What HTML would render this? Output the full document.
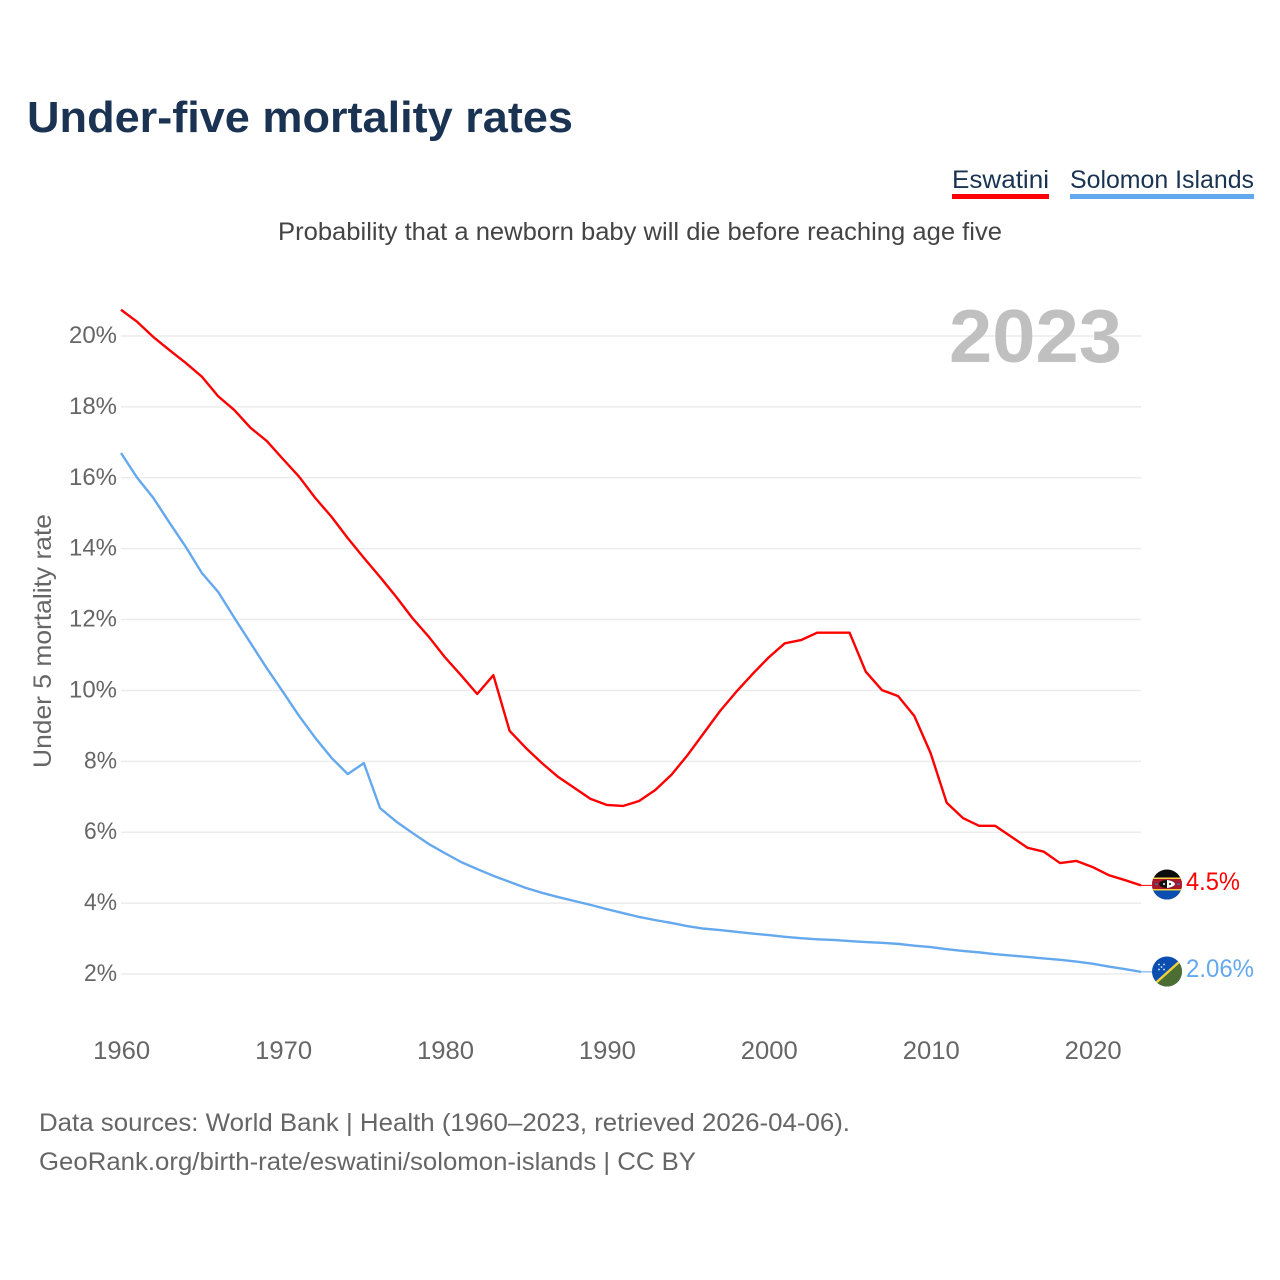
<!DOCTYPE html>
<html lang="en">
<head>
<meta charset="utf-8">
<title>Under-five mortality rates</title>
<style>
html,body{margin:0;padding:0;background:#fff}
svg{display:block}
text{font-family:"Liberation Sans",sans-serif}
</style>
</head>
<body>
<svg id="chart" xmlns="http://www.w3.org/2000/svg" width="1280" height="1280" viewBox="0 0 1280 1280">
  <rect width="1280" height="1280" fill="#fff"/>
  <text x="27" y="132" font-size="44" font-weight="700" fill="#1a3353" textLength="546" lengthAdjust="spacingAndGlyphs">Under-five mortality rates</text>

  <g>
    <text x="952" y="188" font-size="25" fill="#1a3353" textLength="97" lengthAdjust="spacingAndGlyphs">Eswatini</text>
    <rect x="952" y="194" width="97" height="5" fill="#ff0000"/>
  </g>
  <g>
    <text x="1070" y="188" font-size="25" fill="#1a3353" textLength="184" lengthAdjust="spacingAndGlyphs">Solomon Islands</text>
    <rect x="1070" y="194" width="184" height="5" fill="#64a8ee"/>
  </g>

  <text x="278" y="240" font-size="25" fill="#444" textLength="724" lengthAdjust="spacingAndGlyphs">Probability that a newborn baby will die before reaching age five</text>

  <g id="grid"></g>
  <text x="949" y="362" font-size="75" font-weight="700" fill="#c0c0c0" textLength="173" lengthAdjust="spacingAndGlyphs">2023</text>
  <g id="yticks"></g>
  <g id="xticks"></g>
  <text transform="translate(51,768) rotate(-90)" font-size="25" fill="#666" textLength="254" lengthAdjust="spacingAndGlyphs">Under 5 mortality rate</text>
  <g id="series"></g>

  <defs>
    <clipPath id="flag-clip"><circle cx="0" cy="0" r="15"/></clipPath>
  </defs>
  <g id="flag-eswatini" clip-path="url(#flag-clip)">
    <rect x="-15" y="-16" width="30" height="32" fill="#0c0c0c"/>
    <rect x="-15" y="4" width="30" height="12" fill="#0a4fb0"/>
    <rect x="-15" y="-7" width="30" height="13" fill="#f3d040"/>
    <rect x="-15" y="-5.5" width="30" height="10" fill="#a8172a"/>
    <ellipse cx="0" cy="-0.5" rx="8" ry="4" fill="#111"/>
    <path d="M0,-4.5 C5,-4 8,-2 8,-0.5 C8,1 5,3 0,3.5 Z" fill="#fff"/>
    <circle cx="-3" cy="-0.5" r="1" fill="#fff"/>
    <circle cx="3" cy="-0.5" r="1" fill="#111"/>
    <rect x="-12" y="-1" width="3" height="1.5" fill="#3a6fc0"/>
    <rect x="10" y="-1" width="3" height="1.5" fill="#3a6fc0"/>
  </g>
  <g id="flag-solomon" clip-path="url(#flag-clip)">
    <rect x="-15" y="-16" width="30" height="32" fill="#0a4fb0"/>
    <path d="M16,-12 L16,16 L-16,16 Z" fill="#4c6e32"/>
    <line x1="-13" y1="13" x2="16" y2="-13" stroke="#f3d040" stroke-width="2.4"/>
    <g fill="#e8eef8">
      <circle cx="-8" cy="-7" r="0.9"/><circle cx="-3" cy="-7" r="0.9"/><circle cx="-5.5" cy="-4.5" r="0.9"/>
      <circle cx="-8" cy="-2" r="0.9"/><circle cx="-3" cy="-2" r="0.9"/>
    </g>
  </g>
  <g id="endlabels"></g>

  <text x="39" y="1131" font-size="25" fill="#666" textLength="811" lengthAdjust="spacingAndGlyphs">Data sources: World Bank | Health (1960–2023, retrieved 2026-04-06).</text>
  <text x="39" y="1170" font-size="25" fill="#666" textLength="657" lengthAdjust="spacingAndGlyphs">GeoRank.org/birth-rate/eswatini/solomon-islands | CC BY</text>
</svg>

<script>
const startYear = 1960;
const eswatiniValues = [20.74,20.4,19.97,19.6,19.24,18.85,18.3,17.91,17.41,17.04,16.53,16.03,15.43,14.9,14.3,13.74,13.2,12.64,12.04,11.52,10.94,10.43,9.9,10.43,8.86,8.38,7.95,7.56,7.25,6.94,6.77,6.74,6.88,7.19,7.62,8.18,8.8,9.42,9.96,10.46,10.93,11.33,11.42,11.63,11.63,11.63,10.53,10.01,9.84,9.28,8.24,6.83,6.4,6.18,6.18,5.87,5.56,5.45,5.13,5.19,5.02,4.79,4.65,4.5];
const solomonValues = [16.7,16.0,15.43,14.73,14.05,13.31,12.78,12.05,11.34,10.63,9.96,9.28,8.66,8.1,7.64,7.95,6.68,6.3,5.98,5.67,5.41,5.16,4.96,4.77,4.6,4.43,4.29,4.17,4.06,3.95,3.83,3.72,3.61,3.52,3.44,3.35,3.28,3.24,3.19,3.14,3.1,3.05,3.01,2.98,2.96,2.93,2.9,2.88,2.85,2.8,2.76,2.7,2.65,2.61,2.56,2.52,2.48,2.44,2.4,2.35,2.29,2.21,2.14,2.06];
const yTickValues = [2,4,6,8,10,12,14,16,18,20];
const xTickValues = [1960,1970,1980,1990,2000,2010,2020];
const eswatiniEndLabel = "4.5%";
const solomonEndLabel = "2.06%";

const NS = "http://www.w3.org/2000/svg";
function xScale(year){ return 121 + (year - 1960) * (1141 - 121) / 63; }
function yScale(v){ return 974 - (v - 2) * (974 - 336) / 18; }
function make(tag, attrs, parent){
  const el = document.createElementNS(NS, tag);
  for (const k in attrs) el.setAttribute(k, attrs[k]);
  parent.appendChild(el);
  return el;
}

const grid = document.getElementById("grid");
const yticks = document.getElementById("yticks");
yTickValues.forEach(function(v){
  const line = make("line", {x1:121, x2:1141, y1:yScale(v), y2:yScale(v), stroke:"#ececec", "stroke-width":1.5}, grid);
  
  
  const label = v + "%";
  const t = make("text", {x:117, y:yScale(v)+7, "text-anchor":"end", "font-size":24.5, fill:"#666", textLength:label.length === 2 ? 33 : 48, lengthAdjust:"spacingAndGlyphs"}, yticks);
  t.textContent = label;
  
  
});

const xticks = document.getElementById("xticks");
xTickValues.forEach(function(y){
  const t = make("text", {x:xScale(y)+0.7, y:1059, "text-anchor":"middle", "font-size":25, fill:"#666", textLength:57, lengthAdjust:"spacingAndGlyphs"}, xticks);
  t.textContent = String(y);
  
  
});

const series = document.getElementById("series");
function linePoints(values){
  return values.map(function(v, i){ return xScale(startYear + i).toFixed(2) + "," + yScale(v).toFixed(2); }).join(" ");
}
function drawSeries(values, color){
  const last = yScale(values[values.length - 1]);
  const conn = make("line", {x1:1141, x2:1152, y1:last, y2:last, stroke:color, "stroke-width":1}, series);
  
  
  const p = make("polyline", {points:linePoints(values), fill:"none", stroke:color, "stroke-width":2.4, "stroke-linejoin":"round"}, series);
  
  
}
drawSeries(solomonValues, "#64a8ee");
drawSeries(eswatiniValues, "#ff0000");

const eswY = yScale(eswatiniValues[eswatiniValues.length - 1]);
const solY = yScale(solomonValues[solomonValues.length - 1]);
document.getElementById("flag-eswatini").setAttribute("transform", "translate(1167," + (eswY - 0.9) + ")");
document.getElementById("flag-solomon").setAttribute("transform", "translate(1167," + (solY - 0.4) + ")");

const endlabels = document.getElementById("endlabels");
const t1 = make("text", {x:1186, y:eswY + 4.5, "font-size":25, fill:"#ff0000", textLength:54, lengthAdjust:"spacingAndGlyphs"}, endlabels);
t1.textContent = eswatiniEndLabel;


const t2 = make("text", {x:1186, y:solY + 5, "font-size":25, fill:"#64a8ee", textLength:68, lengthAdjust:"spacingAndGlyphs"}, endlabels);
t2.textContent = solomonEndLabel;


</script>
</body>
</html>
